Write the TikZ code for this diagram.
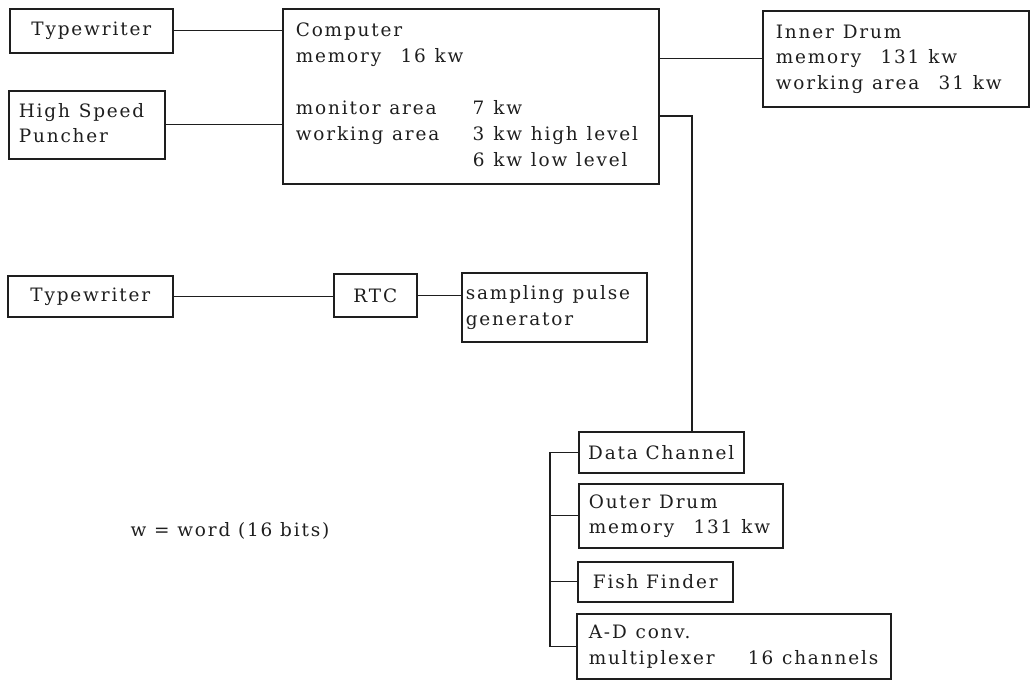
\documentclass[tikz,border=0pt]{standalone}
\usepackage{fontspec}
\setmainfont{DejaVu Serif}[LetterSpace=10]
\usepackage{tikz}
\usepackage{xcolor}
\definecolor{inkgray}{RGB}{30,30,30}
\tikzset{
  unitbox/.style={draw=inkgray, line width=0.9pt, rectangle, anchor=north west, inner xsep=0.26cm,
    font=\fontsize{10.5}{14.7}\selectfont, text=inkgray},
  wire/.style={draw=inkgray, line width=0.8pt}
}
\newcommand{\colA}[1]{\makebox[3.54cm][l]{#1}}
\newcommand{\lns}[1]{\noindent\spaceskip=5pt\relax\begin{tabular}{@{}l@{}}#1\end{tabular}}

\begin{document}
\begin{tikzpicture}[x=0.02cm, y=-0.02cm]
\useasboundingbox (0,0) rectangle (1030,679);
\node[unitbox, minimum width=3.26cm, minimum height=0.88cm] (tw1) at (9,8) {Typewriter};
\node[unitbox, minimum height=1.36cm, inner xsep=0.2cm, text width=2.72cm] (hsp) at (8,90) {\lns{High Speed\\Puncher}};
\node[unitbox, minimum height=3.5cm, text width=7.0cm] (comp) at (282,8) {\lns{
Computer\\
memory\hspace{11pt}16 kw\\
\\
\colA{monitor area}7 kw\\
\colA{working area}3 kw high level\\
\colA{}6 kw low level}};
\node[unitbox, minimum height=1.92cm, text width=4.8cm] (inner) at (762,10) {\lns{
Inner Drum\\
memory\hspace{11pt}131 kw\\
working area\hspace{11pt}31 kw}};
\node[unitbox, minimum width=3.3cm, minimum height=0.82cm] (tw2) at (7,275) {Typewriter};
\node[unitbox, minimum width=1.66cm, minimum height=0.86cm, inner xsep=0.1cm] (rtc) at (333,273) {RTC};
\node[unitbox, minimum height=1.38cm, inner xsep=0.08cm, text width=3.54cm] (spg) at (461,272) {\lns{sampling pulse\\generator}};
\node[unitbox, minimum width=3.3cm, minimum height=0.82cm, inner xsep=0.1cm] (dc) at (578,431) {Data Channel};
\node[unitbox, minimum height=1.28cm, inner xsep=0.2cm, text width=3.68cm] (od) at (578,483) {\lns{Outer Drum\\memory\hspace{11pt}131 kw}};
\node[unitbox, minimum width=3.1cm, minimum height=0.8cm, inner xsep=0.1cm] (ff) at (577,561) {Fish Finder};
\node[unitbox, minimum height=1.3cm, inner xsep=0.24cm, text width=5.8cm] (ad) at (576,613) {\lns{A-D conv.\\multiplexer\hspace{19pt}16 channels}};
\node[font=\fontsize{10.5}{14.7}\selectfont, text=inkgray] (note) at (230,531) {w = word (16 bits)};

\coordinate (drop) at (692,116);
\coordinate (bus) at (550,451);

\draw[wire] (tw1.east) -- (tw1.east -| comp.west);
\draw[wire] (hsp.east) -- (hsp.east -| comp.west);
\draw[wire] (inner.west) -- (inner.west -| comp.east);
\draw[wire] (comp.east |- drop) -- (drop) -- (drop |- dc.north);
\draw[wire] (tw2.east) -- (tw2.east -| rtc.west);
\draw[wire] (rtc.east) -- (rtc.east -| spg.west);
\draw[wire] (dc.west) -- (dc.west -| bus) -- (ad.west -| bus) -- (ad.west);
\draw[wire] (od.west -| bus) -- (od.west);
\draw[wire] (ff.west -| bus) -- (ff.west);
\end{tikzpicture}
\end{document}
